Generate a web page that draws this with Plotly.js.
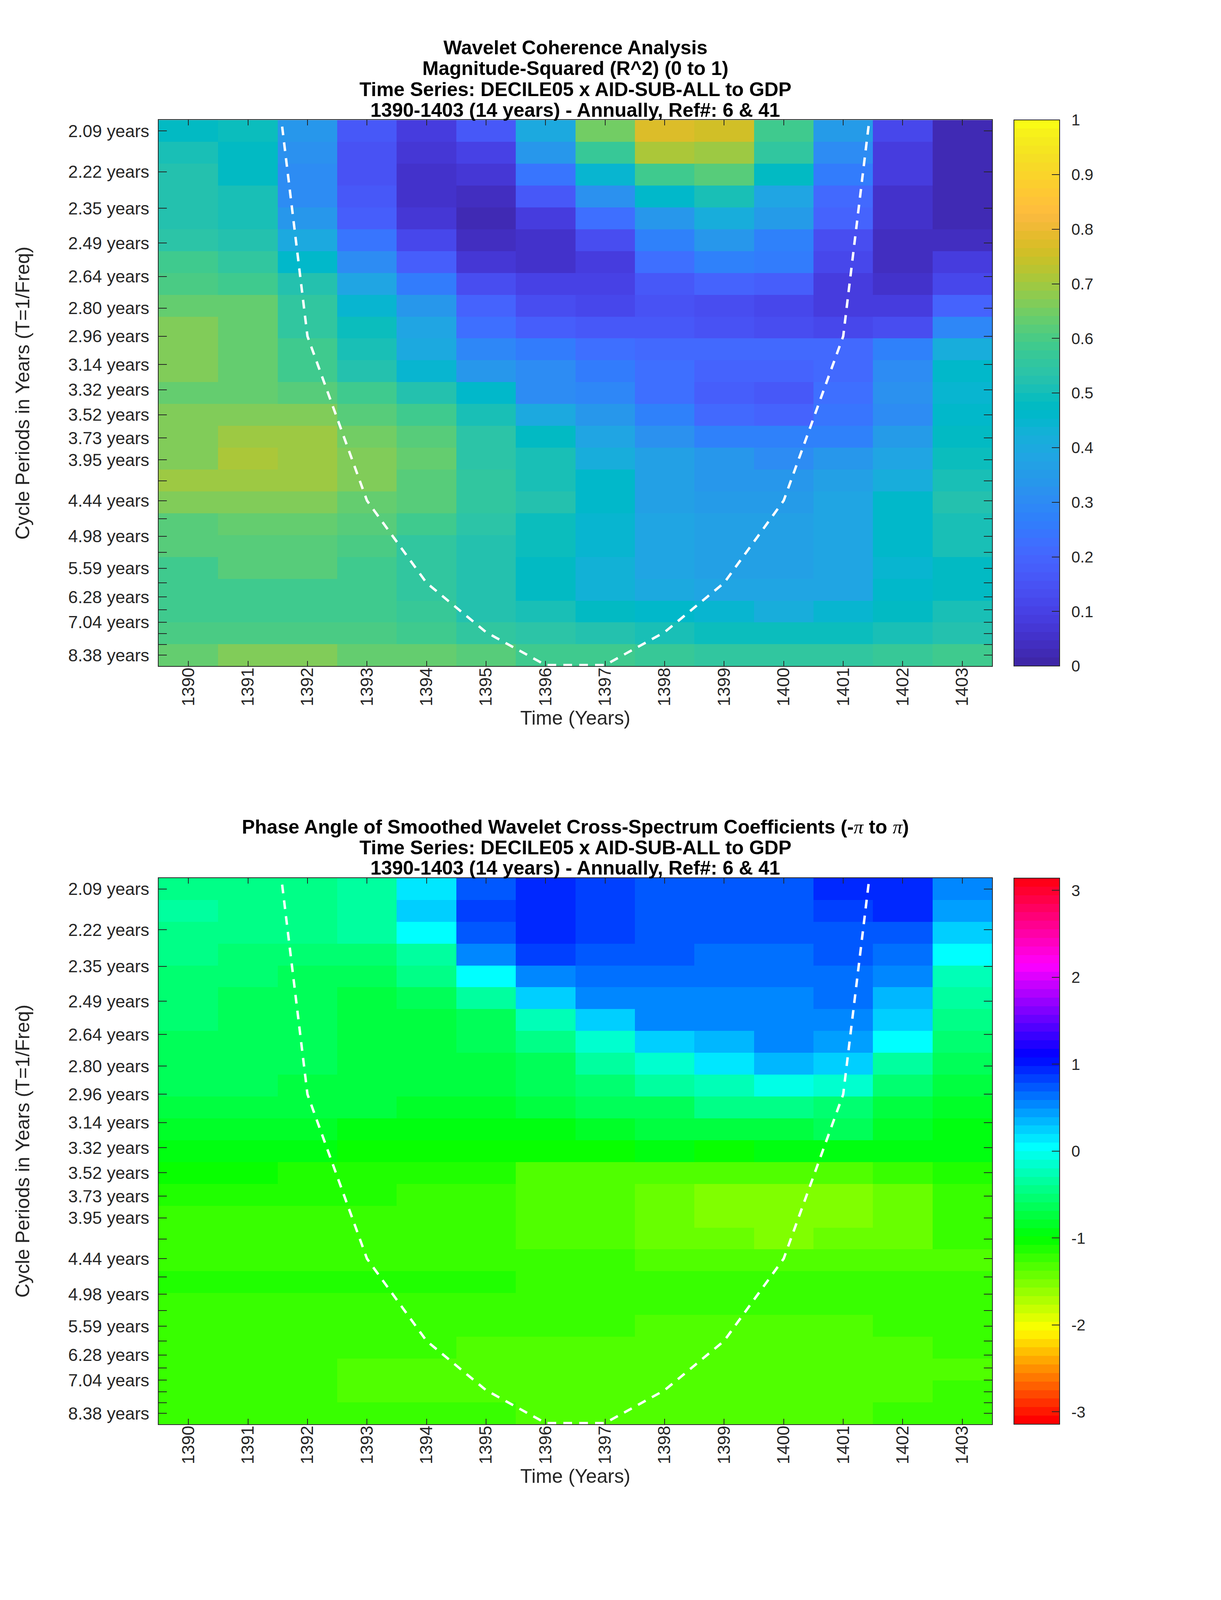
<!DOCTYPE html>
<html>
<head>
<meta charset="utf-8">
<script src="https://cdn.plot.ly/plotly-3.0.1.min.js"></script>
<style>html,body{margin:0;padding:0;background:#fff}</style>
</head>
<body>
<div id="chart"></div>
<script>
const years = [1390,1391,1392,1393,1394,1395,1396,1397,1398,1399,1400,1401,1402,1403];
const periodTicks = [2.09,2.22,2.35,2.49,2.64,2.80,2.96,3.14,3.32,3.52,3.73,3.95,4.19,4.44,4.70,4.98,5.27,5.59,5.92,6.28,6.65,7.04,7.46,7.90,8.38];
const periodLabels = ['2.09 years','2.22 years','2.35 years','2.49 years','2.64 years','2.80 years','2.96 years','3.14 years','3.32 years','3.52 years','3.73 years','3.95 years','','4.44 years','','4.98 years','','5.59 years','','6.28 years','','7.04 years','','','8.38 years'];
const coiYears = [1391,1392,1393,1394,1395,1396,1397,1398,1399,1400,1401,1402];
const coiPeriods = [1.48,2.96,4.44,5.92,7.40,8.88,8.88,7.40,5.92,4.44,2.96,1.48];

const coherence = [
 [.47,.49,.33,.16,.09,.16,.40,.65,.78,.75,.59,.35,.11,.02],
 [.51,.48,.32,.15,.07,.10,.34,.57,.71,.69,.55,.31,.08,.03],
 [.53,.48,.31,.15,.05,.07,.24,.44,.59,.61,.47,.25,.08,.03],
 [.53,.50,.31,.16,.05,.04,.17,.32,.46,.51,.39,.21,.05,.03],
 [.53,.50,.33,.18,.07,.03,.08,.23,.34,.41,.35,.19,.06,.03],
 [.54,.53,.40,.24,.11,.04,.05,.14,.28,.33,.28,.14,.04,.04],
 [.58,.56,.46,.31,.18,.07,.06,.09,.23,.27,.25,.12,.04,.08],
 [.60,.59,.53,.39,.26,.14,.10,.10,.16,.20,.18,.09,.05,.11],
 [.64,.63,.55,.44,.33,.19,.14,.12,.15,.14,.12,.08,.08,.19],
 [.66,.63,.56,.49,.39,.22,.18,.17,.16,.15,.14,.11,.14,.29],
 [.66,.63,.58,.51,.40,.29,.25,.23,.21,.21,.21,.21,.27,.41],
 [.66,.64,.58,.53,.45,.34,.31,.25,.22,.19,.19,.21,.31,.46],
 [.64,.64,.62,.58,.53,.46,.31,.29,.23,.18,.16,.22,.32,.45],
 [.66,.67,.66,.62,.58,.50,.40,.33,.27,.21,.20,.24,.31,.46],
 [.67,.69,.69,.65,.61,.54,.48,.38,.32,.27,.27,.28,.35,.47],
 [.66,.71,.69,.67,.63,.54,.51,.42,.37,.33,.31,.33,.39,.49],
 [.69,.69,.69,.67,.62,.55,.51,.46,.36,.34,.34,.37,.41,.51],
 [.67,.67,.67,.64,.61,.56,.53,.46,.37,.35,.35,.38,.46,.53],
 [.62,.64,.64,.61,.58,.54,.49,.44,.39,.37,.37,.39,.46,.51],
 [.61,.62,.62,.60,.56,.53,.49,.44,.39,.37,.37,.39,.46,.51],
 [.59,.61,.61,.58,.56,.53,.47,.43,.39,.37,.37,.39,.45,.47],
 [.59,.59,.59,.58,.55,.52,.48,.43,.40,.39,.39,.39,.46,.47],
 [.59,.59,.59,.58,.57,.53,.50,.47,.46,.44,.42,.44,.47,.50],
 [.60,.60,.60,.60,.59,.55,.54,.53,.51,.49,.49,.49,.50,.53],
 [.64,.66,.66,.64,.64,.62,.59,.58,.57,.55,.55,.55,.57,.58]
];

const phase = [
 [-.44,-.44,-.44,-.35,.10,.72,.92,.88,.72,.72,.72,.89,.98,.55],
 [-.35,-.44,-.44,-.35,.22,.85,.92,.85,.72,.72,.72,.82,.92,.41],
 [-.44,-.44,-.44,-.35,.00,.78,.92,.85,.72,.72,.72,.72,.72,.22],
 [-.44,-.52,-.52,-.52,-.30,.55,.85,.75,.72,.65,.65,.75,.65,.00],
 [-.52,-.52,-.65,-.65,-.44,.00,.55,.65,.65,.65,.65,.65,.58,-.20],
 [-.52,-.65,-.65,-.72,-.65,-.35,.22,.52,.52,.52,.52,.65,.33,-.35],
 [-.52,-.65,-.65,-.72,-.72,-.65,-.20,.22,.50,.52,.52,.52,.22,-.41],
 [-.65,-.65,-.65,-.72,-.72,-.68,-.45,-.12,.22,.38,.52,.45,.00,-.55],
 [-.65,-.65,-.65,-.72,-.72,-.70,-.60,-.38,-.12,.10,.33,.25,-.38,-.68],
 [-.65,-.65,-.72,-.72,-.72,-.70,-.62,-.55,-.32,-.20,-.06,-.10,-.52,-.78],
 [-.72,-.72,-.72,-.75,-.82,-.82,-.75,-.65,-.62,-.45,-.45,-.52,-.75,-.88],
 [-.80,-.80,-.85,-.98,-.98,-.98,-.98,-.80,-.72,-.70,-.70,-.65,-.82,-.92],
 [-.95,-.95,-.95,-1.05,-1.05,-1.05,-1.05,-1.05,-.95,-1.05,-.95,-.95,-.95,-.95],
 [-1.05,-1.05,-1.15,-1.15,-1.15,-1.15,-1.33,-1.33,-1.31,-1.31,-1.31,-1.31,-1.21,-1.15],
 [-1.15,-1.15,-1.15,-1.15,-1.24,-1.24,-1.33,-1.33,-1.41,-1.52,-1.52,-1.52,-1.41,-1.25],
 [-1.24,-1.24,-1.24,-1.24,-1.24,-1.24,-1.33,-1.33,-1.41,-1.52,-1.52,-1.52,-1.41,-1.25],
 [-1.24,-1.24,-1.24,-1.24,-1.24,-1.24,-1.33,-1.33,-1.41,-1.41,-1.52,-1.44,-1.41,-1.25],
 [-1.24,-1.24,-1.24,-1.24,-1.24,-1.24,-1.24,-1.24,-1.31,-1.31,-1.31,-1.31,-1.31,-1.31],
 [-1.15,-1.15,-1.15,-1.15,-1.15,-1.15,-1.21,-1.21,-1.21,-1.21,-1.21,-1.21,-1.21,-1.21],
 [-1.21,-1.21,-1.21,-1.21,-1.21,-1.21,-1.21,-1.21,-1.21,-1.21,-1.21,-1.21,-1.21,-1.21],
 [-1.24,-1.24,-1.24,-1.24,-1.24,-1.24,-1.24,-1.24,-1.31,-1.31,-1.31,-1.31,-1.21,-1.21],
 [-1.24,-1.24,-1.24,-1.24,-1.24,-1.34,-1.34,-1.34,-1.31,-1.31,-1.31,-1.31,-1.31,-1.21],
 [-1.24,-1.24,-1.24,-1.33,-1.33,-1.34,-1.34,-1.34,-1.31,-1.31,-1.31,-1.31,-1.31,-1.31],
 [-1.24,-1.24,-1.24,-1.33,-1.33,-1.34,-1.34,-1.34,-1.34,-1.34,-1.34,-1.34,-1.34,-1.24],
 [-1.24,-1.24,-1.24,-1.24,-1.24,-1.24,-1.34,-1.34,-1.34,-1.34,-1.34,-1.34,-1.24,-1.24]
];

const parula64 = [
 [.2422,.1504,.6603],[.2504,.1650,.7076],[.2578,.1818,.7511],[.2647,.1978,.7952],
 [.2706,.2147,.8364],[.2751,.2342,.8710],[.2783,.2559,.8991],[.2803,.2782,.9221],
 [.2813,.3006,.9414],[.2810,.3228,.9579],[.2795,.3447,.9717],[.2760,.3667,.9829],
 [.2699,.3892,.9906],[.2602,.4123,.9952],[.2440,.4358,.9988],[.2206,.4603,.9973],
 [.1963,.4847,.9892],[.1834,.5074,.9798],[.1786,.5289,.9682],[.1764,.5499,.9520],
 [.1687,.5703,.9359],[.1540,.5902,.9218],[.1460,.6091,.9079],[.1380,.6276,.8973],
 [.1248,.6459,.8883],[.1113,.6635,.8763],[.0952,.6798,.8598],[.0689,.6948,.8394],
 [.0297,.7082,.8163],[.0036,.7203,.7917],[.0067,.7312,.7660],[.0433,.7411,.7394],
 [.0964,.7500,.7120],[.1408,.7584,.6842],[.1717,.7670,.6554],[.1938,.7758,.6251],
 [.2161,.7843,.5923],[.2470,.7918,.5567],[.2906,.7973,.5188],[.3406,.8008,.4789],
 [.3909,.8029,.4354],[.4456,.8024,.3909],[.5044,.7993,.3480],[.5616,.7942,.3045],
 [.6174,.7876,.2612],[.6720,.7793,.2227],[.7242,.7698,.1910],[.7738,.7598,.1646],
 [.8203,.7498,.1535],[.8634,.7406,.1596],[.9035,.7330,.1774],[.9393,.7288,.2100],
 [.9728,.7298,.2394],[.9956,.7434,.2371],[.9970,.7659,.2199],[.9952,.7861,.1999],
 [.9892,.8086,.1816],[.9786,.8297,.1665],[.9676,.8515,.1522],[.9610,.8739,.1428],
 [.9597,.8968,.1262],[.9626,.9213,.1135],[.9691,.9468,.1020],[.9769,.9839,.0805]
];

const coherenceColorTicks = [0,.1,.2,.3,.4,.5,.6,.7,.8,.9,1];
const coherenceColorLabels = ['0','0.1','0.2','0.3','0.4','0.5','0.6','0.7','0.8','0.9','1'];
const phaseColorTicks = [-3,-2,-1,0,1,2,3];
const phaseColorLabels = ['-3','-2','-1','0','1','2','3'];

const title1Lines = ['Wavelet Coherence Analysis','Magnitude-Squared (R^2) (0 to 1)','Time Series: DECILE05 x AID-SUB-ALL to GDP','1390-1403 (14 years) - Annually, Ref#: 6 & 41'];
const PI_SPAN = '<span style="font-family:\'Liberation Serif\';font-weight:normal"><i>π</i></span>';
const title2Lines = ['Phase Angle of Smoothed Wavelet Cross-Spectrum Coefficients (-'+PI_SPAN+' to '+PI_SPAN+')','Time Series: DECILE05 x AID-SUB-ALL to GDP','1390-1403 (14 years) - Annually, Ref#: 6 & 41'];

// The design is 3125 x 6252. The browser may give a shorter window, and anything
// below it is not photographed, so the whole chart is laid out to the height available.
const W = 3125, REF_H = 6252;
const H = Math.min(REF_H, window.innerHeight || REF_H);
const SY = H/REF_H;
const SHORT = SY < 1;
const F = SHORT ? 0.78 : 1;
const plotL = 406, plotR = 2539;
const plot1 = {t:469*SY, b:2603*SY}, plot2 = {t:3431*SY, b:5565*SY};
const barL = 2595;
const INK = '#262626';
const FONT = '"Liberation Sans", Arial, sans-serif';
document.getElementById('chart').style.cssText = 'width:'+W+'px;height:'+H+'px';

function rgbStr(c){return 'rgb('+c.map(v=>Math.round(v*255)).join(',')+')';}
function stepped(list){
  const out=[]; const n=list.length;
  list.forEach((c,i)=>{out.push([i/n,c]);out.push([(i+1)/n,c]);});
  return out;
}
function hsvList(n){
  const out=[];
  for(let i=0;i<n;i++){
    const h=i/n*6, k=Math.floor(h)%6, f=h-Math.floor(h);
    const rgb=[[1,f,0],[1-f,1,0],[0,1,f],[0,1-f,1],[f,0,1],[1,0,1-f]][k];
    out.push(rgbStr(rgb));
  }
  return out;
}

const f0 = 1/periodTicks[0], fN = 1/periodTicks[periodTicks.length-1];
const step = (f0-fN)/(periodTicks.length-1);
const rowFreq = periodTicks.map((_,i)=>f0-i*step);
const freqRange = [fN-step/2, f0+step/2];
const tickFreq = periodTicks.map(T=>1/T);

function xAxis(anchor){
  return {
    domain:[plotL/W,plotR/W], anchor:anchor, range:[1389.5,1403.5],
    tickmode:'array', tickvals:years, ticktext:years.map(String), tickangle:-90,
    ticks:'inside', ticklen:21*SY, tickwidth:2, tickcolor:INK, ticklabelstandoff:SHORT?-16:-12,
    showline:true, linewidth:2, linecolor:INK, mirror:'ticks', showgrid:false, zeroline:false,
    tickfont:{family:FONT,size:57*F,color:INK},
    title:{text:'Time (Years)',font:{family:FONT,size:64*F,color:INK},standoff:SHORT?13:34},
    automargin:false
  };
}
function yAxis(anchor,box){
  return {
    domain:[1-box.b/H,1-box.t/H], anchor:anchor, range:freqRange,
    tickmode:'array', tickvals:tickFreq, ticktext:periodLabels,
    ticks:'inside', ticklen:21, tickwidth:2, tickcolor:INK, ticklabelstandoff:13,
    showline:true, linewidth:2, linecolor:INK, mirror:'ticks', showgrid:false, zeroline:false,
    tickfont:{family:FONT,size:57*F,color:INK},
    title:{text:'Cycle Periods in Years (T=1/Freq)',font:{family:FONT,size:64*F,color:INK},standoff:SHORT?83:14},
    automargin:false
  };
}
function colorbar(box,ticks,labels){
  return {
    x:barL/W, xanchor:'left', xpad:0, y:1-box.t/H, yanchor:'top', ypad:0,
    lenmode:'pixels', len:box.b-box.t, thicknessmode:'pixels', thickness:117,
    outlinewidth:2, outlinecolor:INK, borderwidth:0,
    tickmode:'array', tickvals:ticks, ticktext:labels.map(s=>(SHORT?'\u2002':'')+s),
    ticks:'inside', ticklen:21, tickwidth:2, tickcolor:INK,
    tickfont:{family:FONT,size:52*F,color:INK}
  };
}
function titleNotes(lines,ys){
  return lines.map((t,i)=>({
    text:'<b>'+t+'</b>', xref:'paper', yref:'paper', x:(plotL+plotR)/2/W, y:1-ys[i]/REF_H,
    xanchor:'center', yanchor:'middle', showarrow:false,
    font:{family:FONT,size:64*F,color:'#000'}
  }));
}
const coiTrace = (xa,ya)=>({
  type:'scatter', mode:'lines', x:coiYears, y:coiPeriods.map(T=>1/T), xaxis:xa, yaxis:ya,
  line:{color:'#fff',width:8*F,dash:(34*SY)+'px,'+(28*SY)+'px'}, hoverinfo:'skip', showlegend:false
});

const data = [
  {type:'heatmap',x:years,y:rowFreq,z:coherence,coloraxis:'coloraxis',xaxis:'x',yaxis:'y',zsmooth:false},
  coiTrace('x','y'),
  {type:'heatmap',x:years,y:rowFreq,z:phase,coloraxis:'coloraxis2',xaxis:'x2',yaxis:'y2',zsmooth:false},
  coiTrace('x2','y2')
];

const layout = {
  width:W, height:H, margin:{l:0,r:0,t:0,b:0,pad:0}, paper_bgcolor:'#fff', plot_bgcolor:'#fff', showlegend:false,
  font:{family:FONT,color:INK},
  xaxis:xAxis('y'), yaxis:yAxis('x',plot1),
  xaxis2:xAxis('y2'), yaxis2:yAxis('x2',plot2),
  coloraxis:{cmin:0,cmax:1,colorscale:stepped(parula64.map(rgbStr)),colorbar:colorbar(plot1,coherenceColorTicks,coherenceColorLabels)},
  coloraxis2:{cmin:-Math.PI,cmax:Math.PI,colorscale:stepped(hsvList(64)),colorbar:colorbar(plot2,phaseColorTicks,phaseColorLabels)},
  annotations:[...titleNotes(title1Lines,[186,267,349,430]),...titleNotes(title2Lines,[3231,3312,3392])]
};
Plotly.newPlot('chart',data,layout,{displayModeBar:false,staticPlot:true});
</script>
</body>
</html>
